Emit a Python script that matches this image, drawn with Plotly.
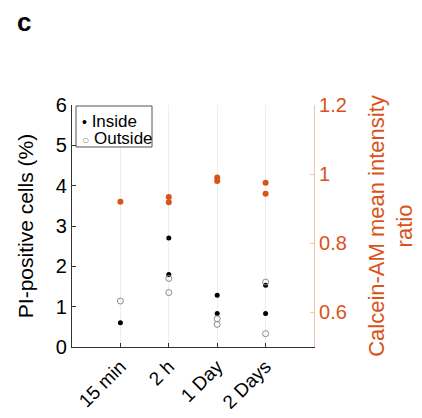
import plotly.graph_objects as go

categories = ["15 min", "2 h", "1 Day", "2 Days"]
cat_pos = [1, 2, 3, 4]

# PI-positive cells (%)
inside_x = [1, 2, 2, 3, 3, 4, 4]
inside_y = [0.60, 2.70, 1.80, 1.28, 0.83, 1.53, 0.83]
outside_x = [1, 2, 2, 3, 3, 4, 4]
outside_y = [1.14, 1.70, 1.35, 0.70, 0.56, 1.61, 0.33]

# Calcein-AM mean intensity ratio
calcein_x = [1, 2, 2, 3, 3, 4, 4]
calcein_y = [0.920, 0.934, 0.919, 0.990, 0.980, 0.975, 0.943]

left_ticks = [0, 1, 2, 3, 4, 5, 6]
right_ticks = [0.6, 0.8, 1.0, 1.2]
right_ticktext = ["0.6", "0.8", "1", "1.2"]

ORANGE = "#D95319"
FONT = "Liberation Sans, Arial, sans-serif"

# the page body adds an 8px offset; figure is sized to fill the rest of the window
OFF = 8

fig = go.Figure()
fig.add_trace(go.Scatter(
    x=inside_x, y=inside_y, mode="markers", name="Inside",
    marker=dict(symbol="circle", size=5, color="black"), showlegend=False,
))
fig.add_trace(go.Scatter(
    x=outside_x, y=outside_y, mode="markers", name="Outside",
    marker=dict(symbol="circle-open", size=6, color="#8c8c8c", line=dict(width=1)),
    showlegend=False,
))
fig.add_trace(go.Scatter(
    x=calcein_x, y=calcein_y, mode="markers", name="Calcein",
    marker=dict(symbol="circle", size=6, color=ORANGE),
    yaxis="y2", showlegend=False,
))

# helpers: screen pixel -> paper coords (plot area spans 72..314 px, 105..347 px)
def px_x(p):
    return (p - 72) / 242.0

def px_y(p):
    return (347 - p) / 242.0

fig.add_shape(type="rect", xref="paper", yref="paper",
              x0=px_x(76), x1=px_x(152), y0=px_y(147), y1=px_y(106),
              line=dict(color="#555555", width=1), fillcolor="white", layer="above")

legend_font = dict(size=17, color="black", family=FONT)
annotations = [
    dict(text="<span style='font-size:14px'>•</span> Inside", xref="paper", yref="paper",
         x=px_x(80), y=px_y(121), xanchor="left", yanchor="middle", height=16,
         valign="middle", showarrow=False, font=legend_font),
    dict(text="<span style='font-size:12px;fill:#8c8c8c'>○</span> Outside", xref="paper", yref="paper",
         x=px_x(80), y=px_y(138), xanchor="left", yanchor="middle", height=16,
         valign="middle", showarrow=False, font=legend_font),
    dict(text="<b>c</b>", xref="paper", yref="paper", x=px_x(15), y=px_y(22),
         xanchor="left", yanchor="middle", showarrow=False,
         font=dict(size=26, color="black", family=FONT)),
]

fig.update_layout(
    width=422 - OFF, height=418 - OFF,
    margin=dict(l=72 - OFF, r=108, t=105 - OFF, b=71, autoexpand=False),
    paper_bgcolor="white", plot_bgcolor="white",
    font=dict(family=FONT, size=16, color="black"),
    showlegend=False,
    xaxis=dict(
        range=[0, 5], tickmode="array", tickvals=cat_pos, ticktext=categories,
        tickangle=-45, showgrid=True, gridcolor="#eeeeee", gridwidth=1,
        showline=True, linecolor="#333333", linewidth=1.2,
        ticks="inside", ticklen=4, tickcolor="#333333",
        zeroline=False, tickfont=dict(size=19), automargin=False,
    ),
    yaxis=dict(
        range=[0, 6], tickmode="array", tickvals=left_ticks,
        showgrid=False, zeroline=False,
        showline=True, linecolor="#333333", linewidth=1.2,
        ticks="inside", ticklen=4, tickcolor="#333333",
        tickfont=dict(size=20), automargin=False,
        title=dict(text="PI-positive cells (%)", font=dict(size=21), standoff=16),
    ),
    yaxis2=dict(
        range=[0.5, 1.2], overlaying="y", side="right",
        tickmode="array", tickvals=right_ticks, ticktext=right_ticktext,
        showgrid=False, zeroline=False,
        showline=True, linecolor="rgba(217,83,25,0.35)", linewidth=1.2,
        ticks="inside", ticklen=4, tickcolor="rgba(217,83,25,0.35)",
        tickfont=dict(size=20, color=ORANGE), automargin=False,
        title=dict(text="Calcein-AM mean intensity<br>ratio",
                   font=dict(size=22, color=ORANGE), standoff=22),
    ),
    annotations=annotations,
)

fig.write_html("out.html")
